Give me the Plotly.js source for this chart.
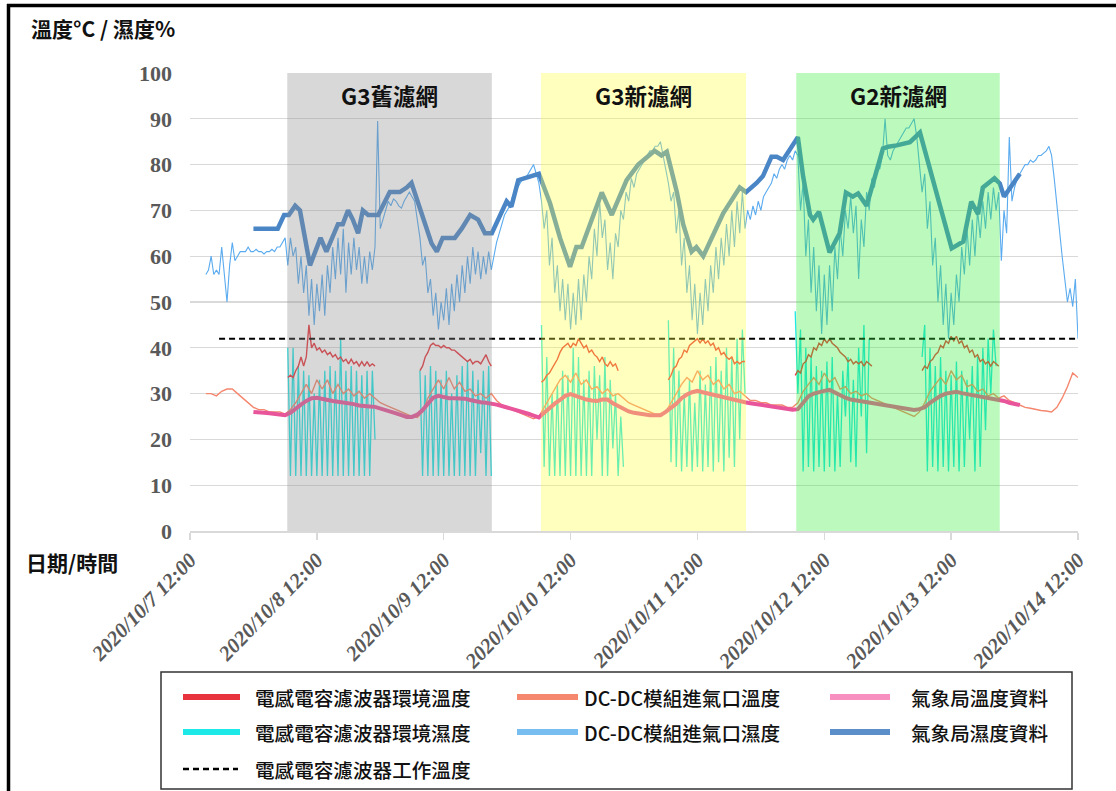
<!DOCTYPE html>
<html>
<head>
<meta charset="utf-8">
<script src="https://cdn.plot.ly/plotly-3.0.1.min.js"></script>
<style>html,body{margin:0;padding:0;background:#fff;}#chart{width:1116px;height:791px;}</style>
</head>
<body>
<div id="chart"></div>
<script>
// ---------- DATA (hours after 2020-10-07 12:00) ----------
const tickHours = [0, 24, 48, 72, 96, 120, 144, 168];
const tickLabels = ['2020/10/7 12:00','2020/10/8 12:00','2020/10/9 12:00','2020/10/10 12:00','2020/10/11 12:00','2020/10/12 12:00','2020/10/13 12:00','2020/10/14 12:00'];

const regionNames = ['G3舊濾網','G3新濾網','G2新濾網'];
const regionStart = [18.4, 66.4, 114.7];
const regionEnd = [57.1, 105.2, 153.2];

// DC-DC 模組進氣口濕度 (every 0.5 h from h=3)
const dcHumStart = 3, dcHumStep = 0.5;
const dcHum = [56,57,60,56,57,56,62,56,50,58,63,59,60,61,61,61,62,61,61,61.5,61,61,60.5,61,61,61.5,61,62,62,63,64,
58,64,60,62,54,60,52,58,47,55,45,54,48,56,47,58,52,62,55,64,56,66,52,63,56,64,57,62,54,60,54,61,57,62,89.5,
66,68,70,72,71,72.5,72,71,70.5,72,73,74,73,72,68,64,58,60,52,55,47,52,44,50,46,53,45,54,48,56,50,58,52,60,54,62,56,61,55,60,56,61,57,
60,63,65,67,69,70,71,73,74,75,76,77,77,78,79,80,78,76,
72,66,70,58,64,52,58,48,55,46,54,44,52,45,55,46,56,50,60,55,66,60,72,64,68,57,63,55,65,62,70,68,74,72,77,75,78,79,80,81,82,83,83,84,84,85,
82,79,76,72,74,65,70,58,64,52,58,46,54,43,52,45,55,48,58,52,62,55,64,58,67,60,70,62,72,65,74,66,
70,68,71,69,72,70,73,74,75,76,78,77,79,80,79,81,82,81,83,82,
70,76,60,68,52,62,48,58,43,56,45,58,48,62,55,66,60,70,66,73,65,71,55,68,62,74,70,77,75,80,79,82,90,82,81,83,84,85,86,87,88,88,89,90,
86,80,74,78,66,72,58,64,50,58,45,54,42,52,45,56,50,62,56,66,58,68,60,70,64,72,66,74,68,75,70,74,
59,70,65,86,72,75,77,78,79,80,80,81,80.5,81,82,82,82.5,83,84,82,77,71,65,60,55,50,53,49,55,42];

// 電感電容濾波器環境濕度 (segments, every 0.5 h)
const filtHumStart = [18.5, 43.5, 66.5, 90.5, 114.5, 138.5];
const filtHum1 = [40,12,40,12,36,12,35,12,34,12,30,12,33,12,35,12,36,12,35,12,42,12,35,12,36,12,35,12,34,12,35,12,35,20];
const filtHum2 = [35,12,34,12,36,12,35,12,33,12,35,12,30,12,34,12,36,12,37,12,35,12,33,17,35,12,36,12];
const filtHum3 = [45,14,38,12,30,12,32,12,35,12,34,12,40,12,38,12,33,12,35,12,36,20,34,12,38,12,33,18,30,12,25,14];
const filtHum4 = [46,15,40,14,35,13,30,14,33,13,28,14,35,13,32,14,36,13,38,15,35,13,40,16,38,14,42,20,44,30];
const filtHum5 = [48,30,44,13,40,14,38,13,36,14,35,13,37,14,38,13,30,14,35,25,38,15,33,14,40,25,45,17,42];
const filtHum6 = [38,45,13,40,14,36,13,38,14,35,13,34,14,37,13,35,14,33,20,36,13,38,14,40,22,42,30,44,36];

// 電感電容濾波器環境溫度 (segments, every 0.5 h)
const filtTempStart = [18.5, 43.5, 66.5, 90.5, 114.5, 138.5];
const filtTemp1 = [33.5,34,33.5,35,36,38,36,38,45,40,41,39.5,40,39,39.5,38.5,39,38,38.5,37.5,38,37,37.5,36.5,37.5,36.5,37,36,37,36,37,36,36.5,36];
const filtTemp2 = [35,36,38,39,40.5,41,40.5,40.5,40,40.5,40,40,39.5,39.5,39,38.5,38,37.5,37,37.5,36.5,37,37,36.5,37.5,38.5,37,36];
const filtTemp3 = [32.5,33,34,34.5,35.5,36.5,37.5,39,40,40.5,41,40,41,40.5,42,41,40,40.5,39,39.5,38.5,38,37,38,36.5,36,37,36,36.5,35];
const filtTemp4 = [33,34,35.5,36,37.5,38,39.5,39,40.5,41,41.5,42,41,42,41,41.5,40.5,41,39.5,40,38.5,39,38,37.5,38,36.5,37,36.5,37,37];
const filtTemp5 = [34,35,34.5,36.5,37,38.5,38,40,39.5,41,40.5,42,41,42,41,40.5,40,39,38.5,38,37,37.5,36.5,37,36.5,37,36,37,36.5,36];
const filtTemp6 = [35,36,35.5,37,37.5,38.5,39,40.5,40,41.5,41,42.5,41.5,42.5,41,41.5,40,40.5,39,39.5,38,38.5,37,37.5,36.5,37,36,37,36.5,36];

// DC-DC 模組進氣口溫度 (every 1 h from h=3)
const dcTempStart = 3, dcTempStep = 1;
const dcTemp = [30,30,29.5,30.5,31,31,30,29,28,27,
26.5,26.5,26,26,26,25.5,26.5,28,30,32,
30,33,31,33,30,32,30,31,29.5,30.5,
29,30,29,28,27.5,27,26.5,26,25.5,25,
24.8,26,29,31,33,31,33.5,31,32.5,30.5,
31,29.5,30,29,30,28.5,27.5,27,26.5,26,
25.5,25,24.5,25,27,29,31,33,34,32.5,
34.5,32,33,31,31.5,30,31,29.5,30,29,
28,27.5,27,26.5,26,25.5,25.5,26,28,30,
32,33.5,32.5,35,33,34,32,33,31,32,
30,30.5,29.5,28.5,28.5,28,28,27.5,27.5,27.5,
27,27,28,30.5,32,33.5,32,34.5,32.5,33.5,
31,31.5,30,30.5,29.5,30,29,28.5,28,27.5,
27,26.5,26,25.5,25,26,28,30.5,32,33.5,
32,35,33,34,31.5,32,30.5,31,29.5,30,
29,29.5,28.5,28,27.5,27,26.8,26.5,26.3,26.2,
26,27,29,31.5,34.5,33.5];

// 氣象局溫度資料 (hourly from h=12)
const jmaTempStart = 12, jmaTempStep = 1;
const jmaTemp = [26,26,25.8,25.7,25.6,25.4,25.3,25.8,26.8,27.6,
28.4,29,29.1,28.8,28.5,28.4,28.2,28.1,27.9,27.7,
27.4,27.2,27.2,27.1,26.8,26.5,26.1,25.7,25.3,24.9,
24.9,25.4,26.4,27.9,29.1,29.5,29.2,29,29,29,
28.9,28.6,28.3,28.1,28,27.9,27.6,27.3,27,26.7,
26.3,26,25.6,25.2,24.8,25.8,26.9,27.8,28.6,29.5,
29.9,29.5,29,28.7,28.5,28.4,28.7,28.7,27.9,27.3,
26.7,26.1,25.8,25.6,25.4,25.3,25.3,25.3,26,26.8,
27.8,29,29.8,30.3,30.6,30.3,30,29.7,29.4,29.2,
28.9,28.6,28.3,28.1,27.9,27.7,27.5,27.3,27.2,27,
26.9,26.7,26.5,26.6,28,29.4,30,30.4,30.6,30.8,
30.2,29.5,29.1,28.7,28.5,28.3,28.1,28,27.7,27.4,
27.2,27,26.9,26.7,26.5,26.4,26.6,27,28,28.8,
29.5,30,30.3,30.4,30.1,29.9,29.6,29.3,29.1,28.9,
28.7,28.6,28.4,28,27.7,27.5];

// 氣象局濕度資料 (hour, value)
const jmaHumH = [12,16.6,17.8,18.7,19.9,20.8,22.7,24.7,25.8,28,28.9,29.9,30.8,31.8,32.7,33.7,35.6,37.8,39.7,41,41.9,44,45.7,46.7,47.8,50.1,51.4,53,54.5,55.8,57.1,59.9,60.8,62.1,65.6,66,68.1,70,71.9,73.1,74.1,77.9,79.8,82.6,84.8,87.9,89.2,90.2,92.1,93.3,94.9,95.8,97.1,100.9,104,105.2,107.2,108.4,110,111,112.2,115,116,117.3,117.9,119,121,122.9,124.1,125.4,126.4,128,131.1,132.1,133.7,134.9,136.2,138.1,140,142.2,144.1,146.3,147.8,149.1,150,152.2,153.2,154,157];
const jmaHum = [66,66,69,69,71,70,58,64,61,67,67,70,68,65,70,69,69,74,74,75,76,68.6,62.8,61,64,64,66,69,68,65,65,72,70.8,76.6,77.9,78,71.6,64,57.7,62,62,73.9,69,76.6,80,83,82,82.8,74,67,61,62,60,69.4,75,74,76,77.5,81.7,81.7,81,86,77.4,69,68,69.7,60.8,65,73.9,73,73.7,71,83.5,83.9,84.2,84.6,84.9,87,78.8,69.4,61.7,63.2,71.9,69.2,75,77,75.9,73,78];

// 電感電容濾波器工作溫度
const workTemp = 42, workTempFrom = 5.5, workTempTo = 167.5;

// ---------- helpers ----------
const BASE = Date.UTC(2020, 9, 7, 12, 0, 0);
function ts(h) { return new Date(BASE + Math.round(h * 3600000)).toISOString().slice(0, 19).replace('T', ' '); }
function regular(start, step, vals) { return { x: vals.map((_, i) => ts(start + i * step)), y: vals.slice() }; }
function segments(starts, list, step) {
  const x = [], y = [];
  list.forEach((vals, k) => {
    vals.forEach((v, i) => { x.push(ts(starts[k] + i * step)); y.push(v); });
    if (k < list.length - 1) { x.push(ts(starts[k] + vals.length * step)); y.push(null); }
  });
  return { x, y };
}

const L = 190, R = 38, T = 73, B = 260, PW = 1116 - L - R, PH = 791 - T - B;
const px = v => (v - L) / PW;
const py = v => (T + PH - v) / PH;

const C = {
  red: '#e8343c', cyan: '#1ee6e6', salmon: '#f4876e', pink: '#e9559a', lblue: '#5aabef', dblue: '#4a86c6'
};

const fh = segments(filtHumStart, [filtHum1, filtHum2, filtHum3, filtHum4, filtHum5, filtHum6], 0.5);
const ft = segments(filtTempStart, [filtTemp1, filtTemp2, filtTemp3, filtTemp4, filtTemp5, filtTemp6], 0.5);
const dh = regular(dcHumStart, dcHumStep, dcHum);
const dt = regular(dcTempStart, dcTempStep, dcTemp);
const jt = regular(jmaTempStart, jmaTempStep, jmaTemp);

const traces = [
  { name: '電感電容濾波器環境濕度', x: fh.x, y: fh.y, mode: 'lines', line: { color: C.cyan, width: 1.3 }, connectgaps: false },
  { name: 'DC-DC模組進氣口濕度', x: dh.x, y: dh.y, mode: 'lines', line: { color: C.lblue, width: 1.1 } },
  { name: '電感電容濾波器環境溫度', x: ft.x, y: ft.y, mode: 'lines', line: { color: C.red, width: 1.4 }, connectgaps: false },
  { name: 'DC-DC模組進氣口溫度', x: dt.x, y: dt.y, mode: 'lines', line: { color: C.salmon, width: 1.4 } },
  { name: '氣象局溫度資料', x: jt.x, y: jt.y, mode: 'lines', line: { color: C.pink, width: 4 } },
  { name: '氣象局濕度資料', x: jmaHumH.map(ts), y: jmaHum, mode: 'lines', line: { color: C.dblue, width: 4.5 } },
  { name: '電感電容濾波器工作溫度', x: [ts(workTempFrom), ts(workTempTo)], y: [workTemp, workTemp], mode: 'lines', line: { color: '#000', width: 2, dash: '6px,4px' } }
];
traces.forEach(t => { t.showlegend = false; t.hoverinfo = 'skip'; });

const regionFill = ['#8c8c8c', '#ffff40', '#3cee3c'];
const shapes = [];
regionStart.forEach((s, i) => {
  shapes.push({ type: 'rect', xref: 'x', yref: 'y', x0: ts(s), x1: ts(regionEnd[i]), y0: 0, y1: 100,
    fillcolor: regionFill[i], opacity: 0.34, line: { width: 0 }, layer: 'above' });
});
// outer frame
shapes.push({ type: 'line', xref: 'paper', yref: 'paper', x0: px(8.5), x1: px(8.5), y0: py(4), y1: py(800), line: { color: '#000', width: 3.5 } });
shapes.push({ type: 'line', xref: 'paper', yref: 'paper', x0: px(7), x1: px(1120), y0: py(5.5), y1: py(5.5), line: { color: '#000', width: 3.5 } });
// legend box
shapes.push({ type: 'rect', xref: 'paper', yref: 'paper', x0: px(161), x1: px(1072), y0: py(672), y1: py(789), line: { color: '#333', width: 1.5 }, fillcolor: 'rgba(0,0,0,0)' });

const CJK = 'Noto Sans CJK TC';
const annotations = [];
const legendItems = [
  { t: '電感電容濾波器環境溫度', c: C.red, x: 183, lx: 240, tx: 253, y: 697, w: 6 },
  { t: 'DC-DC模組進氣口溫度', c: C.salmon, x: 517, lx: 578, tx: 582, y: 697, w: 6 },
  { t: '氣象局溫度資料', c: '#f78fc0', x: 830, lx: 890, tx: 909, y: 697, w: 6 },
  { t: '電感電容濾波器環境濕度', c: '#1ee9e9', x: 183, lx: 240, tx: 253, y: 732, w: 6 },
  { t: 'DC-DC模組進氣口濕度', c: '#78bdf0', x: 517, lx: 578, tx: 582, y: 732, w: 6 },
  { t: '氣象局濕度資料', c: '#5b8fc9', x: 830, lx: 890, tx: 909, y: 732, w: 6 },
  { t: '電感電容濾波器工作溫度', c: '#000', x: 183, lx: 238, tx: 253, y: 769, w: 2.5, dash: '6px,4px' }
];
legendItems.forEach(it => {
  shapes.push({ type: 'line', xref: 'paper', yref: 'paper', x0: px(it.x), x1: px(it.lx), y0: py(it.y), y1: py(it.y),
    line: { color: it.c, width: it.w, dash: it.dash || 'solid' } });
  annotations.push({ xref: 'paper', yref: 'paper', x: px(it.tx), y: py(it.y), xanchor: 'left', yanchor: 'middle', showarrow: false,
    text: it.t, font: { family: CJK, size: 19.6, color: '#111', weight: 500 } });
});
annotations.push({ xref: 'paper', yref: 'paper', x: px(29), y: py(28), xanchor: 'left', yanchor: 'middle', showarrow: false,
  text: '溫度°C / 濕度%', font: { family: CJK, size: 21, color: '#111', weight: 'bold' } });
annotations.push({ xref: 'paper', yref: 'paper', x: px(24), y: py(562), xanchor: 'left', yanchor: 'middle', showarrow: false,
  text: '日期/時間', font: { family: CJK, size: 21, color: '#111', weight: 'bold' } });
regionNames.forEach((n, i) => {
  annotations.push({ xref: 'x', yref: 'y', x: ts((regionStart[i] + regionEnd[i]) / 2), y: 95.3, xanchor: 'center', yanchor: 'middle', showarrow: false,
    text: n, font: { family: CJK, size: 22.5, color: '#111', weight: 'bold' } });
});

const layout = {
  width: 1116, height: 791,
  margin: { l: L, r: R, t: T, b: B },
  paper_bgcolor: '#fff', plot_bgcolor: '#fff',
  showlegend: false,
  xaxis: {
    type: 'date', range: [ts(0), ts(168)],
    tickmode: 'array', tickvals: tickHours.map(ts), ticktext: tickLabels,
    tickangle: -46, ticks: 'outside', ticklen: 7, tickcolor: '#d9d9d9', tickwidth: 1.5,
    tickfont: { family: 'Liberation Serif', size: 21, color: '#595959', weight: 'bold', style: 'italic' },
    showgrid: false, showline: true, linecolor: '#d9d9d9', linewidth: 1.5, zeroline: false
  },
  yaxis: {
    range: [0, 100], tickmode: 'linear', tick0: 0, dtick: 10,
    tickfont: { family: 'Liberation Serif', size: 22, color: '#595959', weight: 'bold' },
    showgrid: true, gridcolor: '#d9d9d9', gridwidth: 1.3, zeroline: false, showline: false, ticks: '',
    ticklabelstandoff: 17
  },
  shapes: shapes,
  annotations: annotations
};

Plotly.newPlot('chart', traces, layout, { staticPlot: true, displayModeBar: false });
</script>
</body>
</html>
